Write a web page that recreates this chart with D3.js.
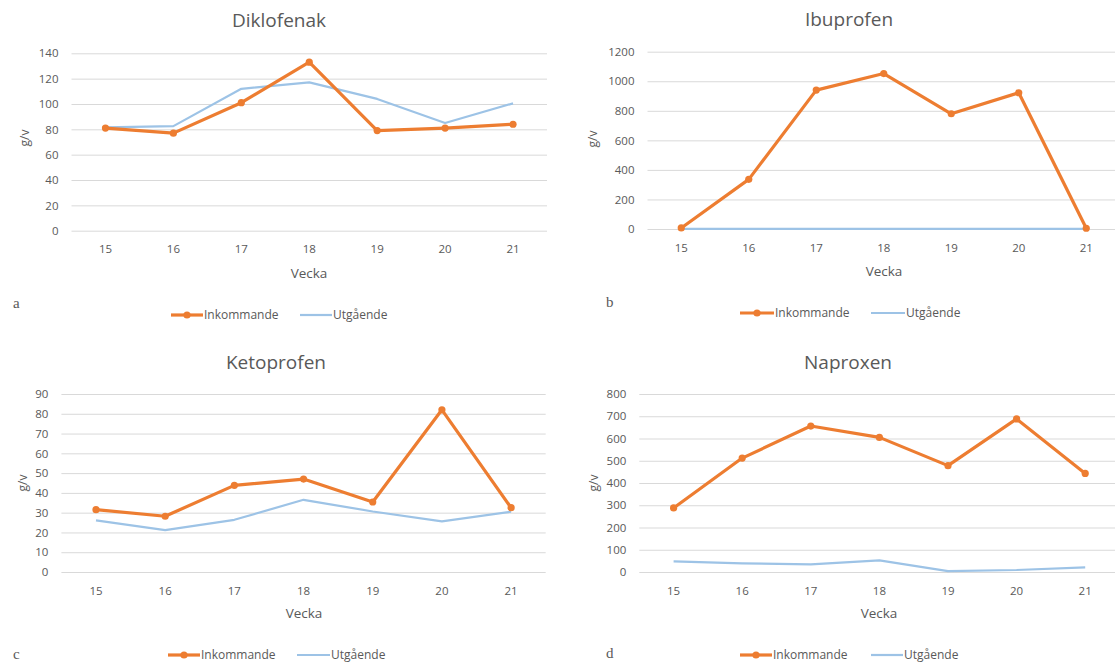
<!DOCTYPE html>
<html><head><meta charset="utf-8">
<script src="https://cdn.jsdelivr.net/npm/d3@7"></script>
<style>
body{margin:0;background:#fff;}
text{font-family:"Open Sans",sans-serif;fill:#595959;}
</style></head>
<body><svg id="c" width="1115" height="666"></svg>
<script>
const weeks = ["15","16","17","18","19","20","21"];
const seriesNames = ["Inkommande","Utgående"];
const dikloInk = [81, 77, 101, 133, 79, 81, 84];
const dikloUtg = [81.5, 82.5, 112, 117, 104, 85, 100.5];
const ibuInk = [7, 336, 940, 1052, 780, 922, 5];
const ibuUtg = [1, 1, 1, 1, 1, 1, 1];
const ketoInk = [31.5, 28.2, 43.8, 47, 35.4, 82, 32.5];
const ketoUtg = [26.1, 21.2, 26.4, 36.5, 30.6, 25.6, 30.5];
const napInk = [288, 512, 656, 605, 478, 688, 443];
const napUtg = [48, 39, 34, 52, 4, 9, 21];
const dikloTicks = [0,20,40,60,80,100,120,140];
const ibuTicks = [0,200,400,600,800,1000,1200];
const ketoTicks = [0,10,20,30,40,50,60,70,80,90];
const napTicks = [0,100,200,300,400,500,600,700,800];
const titles = ["Diklofenak","Ibuprofen","Ketoprofen","Naproxen"];
const letters = ["a","b","c","d"];
const xTitle = "Vecka", yTitle = "g/v";

const ORANGE = "#ED7D31", BLUE = "#9DC3E6", GRID = "#D9D9D9";

const panels = [
  {ink:dikloInk, utg:dikloUtg, ticks:dikloTicks,
   L:{left:71.5,right:547,top:53.3,bottom:230.7,titleX:279,titleY:20,xLabY:249,veckaX:309,veckaY:273,gvX:25,gvY:138,letterX:13,letterY:303,legY:315,o:[171,203],b:[300,332]}},
  {ink:ibuInk, utg:ibuUtg, ticks:ibuTicks,
   L:{left:647.5,right:1120,top:51.7,bottom:229,titleX:849,titleY:19,xLabY:248,veckaX:884,veckaY:271,gvX:593,gvY:139,letterX:606,letterY:302,legY:313,o:[740,774],b:[871,905]}},
  {ink:ketoInk, utg:ketoUtg, ticks:ketoTicks,
   L:{left:61.4,right:545.7,top:394,bottom:572,titleX:276,titleY:362,xLabY:591,veckaX:304,veckaY:613,gvX:23,gvY:483,letterX:13,letterY:654,legY:655,o:[168,200],b:[297,330]}},
  {ink:napInk, utg:napUtg, ticks:napTicks,
   L:{left:639.3,right:1119.5,top:394,bottom:572,titleX:848,titleY:362,xLabY:591,veckaX:879,veckaY:613,gvX:594,gvY:483,letterX:606,letterY:653,legY:655,o:[740,772],b:[871,903]}}
];

const svg = d3.select("#c");

panels.forEach((p,i)=>{
  const L = p.L;
  const g = svg.append("g");
  const x = d3.scaleBand().domain(weeks).range([L.left, L.right]);
  const y = d3.scaleLinear().domain([0, d3.max(p.ticks)]).range([L.bottom, L.top]);
  const cx = d => x(d) + x.bandwidth()/2;

  // gridlines
  const yAxis = d3.axisLeft(y).tickValues(p.ticks).tickSize(-(Math.min(L.right,1115)-L.left)).tickPadding(13).tickFormat(d3.format("d"));
  const ya = g.append("g").attr("transform",`translate(${L.left},0)`).call(yAxis);
  ya.select(".domain").remove();
  ya.selectAll(".tick line").attr("stroke",GRID).attr("stroke-width",1);
  ya.selectAll(".tick text").attr("font-size","11.5px").attr("fill","#595959").style("font-family","'Open Sans',sans-serif");

  const xAxis = d3.axisBottom(x).tickSize(0).tickPadding(0);
  const xa = g.append("g").attr("transform",`translate(0,${L.xLabY})`).call(xAxis);
  xa.select(".domain").remove();
  xa.selectAll(".tick text").attr("font-size","11.5px").attr("fill","#595959").attr("dy","0.35em").style("font-family","'Open Sans',sans-serif");

  // title
  g.append("text").attr("x",L.titleX).attr("y",L.titleY).attr("dy","0.35em").attr("text-anchor","middle").attr("font-size","19px").text(titles[i]);
  g.append("text").attr("x",L.veckaX).attr("y",L.veckaY).attr("dy","0.35em").attr("text-anchor","middle").attr("font-size","13.5px").text(xTitle);
  g.append("text").attr("transform",`translate(${L.gvX},${L.gvY}) rotate(-90)`).attr("dy","0.35em").attr("text-anchor","middle").attr("font-size","12px").text(yTitle);
  g.append("text").attr("x",L.letterX).attr("y",L.letterY).attr("dy","0.35em").attr("font-size","15px").style("font-family","'Liberation Serif','Times New Roman',serif").attr("fill","#000").text(letters[i]);

  const line = d3.line().x((d,j)=>cx(weeks[j])).y(d=>y(d));
  g.append("path").datum(p.utg).attr("d",line).attr("fill","none").attr("stroke",BLUE).attr("stroke-width",2.2).attr("stroke-linejoin","round");
  g.append("path").datum(p.ink).attr("d",line).attr("fill","none").attr("stroke",ORANGE).attr("stroke-width",3.2).attr("stroke-linejoin","round");
  g.selectAll("circle.m").data(p.ink).join("circle").attr("class","m")
    .attr("cx",(d,j)=>cx(weeks[j])).attr("cy",d=>y(d)).attr("r",3.6).attr("fill",ORANGE);

  // legend
  const lg = g.append("g");
  lg.append("line").attr("x1",L.o[0]).attr("x2",L.o[1]).attr("y1",L.legY).attr("y2",L.legY).attr("stroke",ORANGE).attr("stroke-width",3.2);
  lg.append("circle").attr("cx",(L.o[0]+L.o[1])/2).attr("cy",L.legY).attr("r",3.6).attr("fill",ORANGE);
  lg.append("text").attr("x",L.o[1]+1).attr("y",L.legY).attr("dy","0.35em").attr("font-size","12px").text(seriesNames[0]);
  lg.append("line").attr("x1",L.b[0]).attr("x2",L.b[1]).attr("y1",L.legY).attr("y2",L.legY).attr("stroke",BLUE).attr("stroke-width",2.2);
  lg.append("text").attr("x",L.b[1]+1).attr("y",L.legY).attr("dy","0.35em").attr("font-size","12px").text(seriesNames[1]);
});
</script></body></html>
